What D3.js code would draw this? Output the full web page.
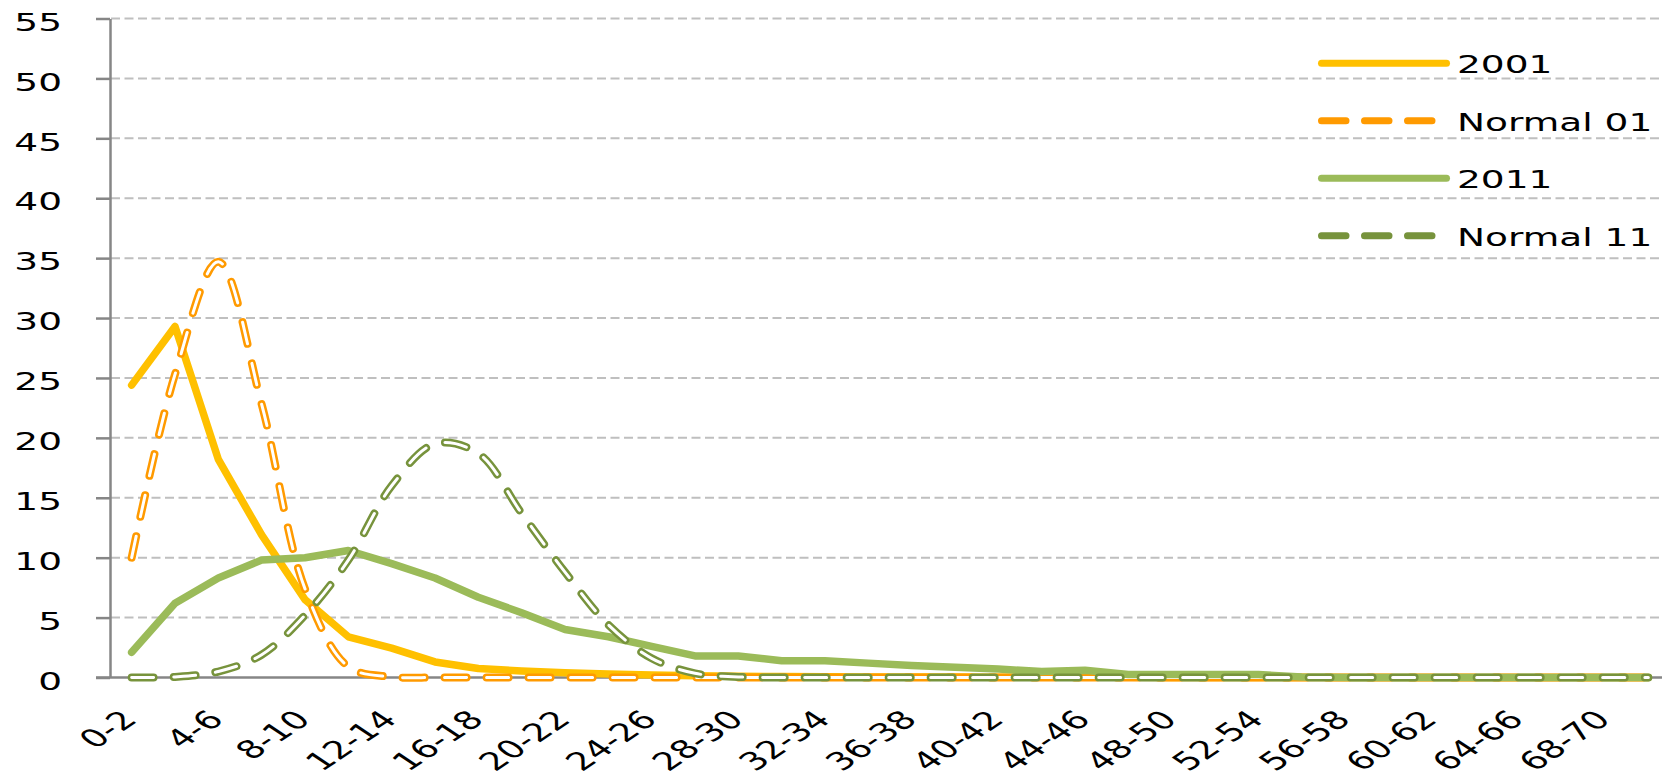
<!DOCTYPE html>
<html>
<head>
<meta charset="utf-8">
<script src="https://cdn.jsdelivr.net/npm/d3@7"></script>
<style>
  body { margin: 0; background: #fff; }
  text { font-family: "DejaVu Sans", sans-serif; fill: #000; }
</style>
</head>
<body>
<svg id="chart" width="1662" height="776"></svg>
<script>
var categories = ["0-2","2-4","4-6","6-8","8-10","10-12","12-14","14-16","16-18","18-20",
  "20-22","22-24","24-26","26-28","28-30","30-32","32-34","34-36","36-38","38-40",
  "40-42","42-44","44-46","46-48","48-50","50-52","52-54","54-56","56-58","58-60",
  "60-62","62-64","64-66","66-68","68-70","70-72"];
var y2001 = [24.4, 29.3, 18.2, 11.9, 6.5, 3.4, 2.45, 1.3, 0.75, 0.55,
  0.4, 0.3, 0.2, 0.15, 0.1, 0.08, 0.06, 0.05, 0.05, 0.04,
  0.03, 0.03, 0.02, 0.02, 0.01, 0.01, 0, 0, 0, 0, 0, 0, 0, 0, 0, 0];
var normal01 = [10.0, 25.3, 34.7, 22.8, 7.4, 0.9, 0.05, 0, 0, 0,
  0, 0, 0, 0, 0, 0, 0, 0, 0, 0, 0, 0, 0, 0, 0, 0, 0, 0, 0, 0, 0, 0, 0, 0, 0, 0];
var y2011 = [2.1, 6.2, 8.3, 9.8, 10.0, 10.6, 9.5, 8.3, 6.7, 5.4,
  4.0, 3.4, 2.6, 1.8, 1.8, 1.4, 1.4, 1.2, 1.0, 0.85,
  0.7, 0.5, 0.6, 0.25, 0.25, 0.25, 0.25, 0.05, 0, 0, 0, 0, 0, 0, 0, 0];
var normal11 = [0, 0.05, 0.5, 1.9, 5.2, 9.8, 16.0, 19.5, 18.7, 13.7,
  8.8, 4.4, 1.6, 0.35, 0.05, 0, 0, 0, 0, 0,
  0, 0, 0, 0, 0, 0, 0, 0, 0, 0, 0, 0, 0, 0, 0, 0];
var yTicks = [0, 5, 10, 15, 20, 25, 30, 35, 40, 45, 50, 55];

var series = [
  {name: "2001", values: y2001, color: "#ffc000", dashed: false},
  {name: "Normal 01", values: normal01, color: "#ff9a00", dashed: true},
  {name: "2011", values: y2011, color: "#9bbb59", dashed: false},
  {name: "Normal 11", values: normal11, color: "#77933c", dashed: true}
];

var svg = d3.select("#chart");
var x = d3.scaleBand().domain(categories).range([110, 1670]);
var cx = function(c) { return x(c) + x.bandwidth() / 2 };
var y = d3.scaleLinear().domain([0, 55]).range([677.5, 18.5]);
// the picture is stretched sideways, so text is too
var stretch = "scale(1.5,1)";

// gridlines
svg.append("g").selectAll("line").data(yTicks.slice(1)).enter().append("line")
  .attr("x1", 111).attr("x2", 1662)
  .attr("y1", function(d) { return y(d) }).attr("y2", function(d) { return y(d) })
  .attr("stroke", "#bfbfbf").attr("stroke-width", 2).attr("stroke-dasharray", "9,4.5");

// y axis
var yAxis = d3.axisLeft(y).tickValues(yTicks).tickSize(14).tickSizeOuter(0);
var yG = svg.append("g").attr("transform", "translate(110,0)").call(yAxis);
yG.select(".domain").attr("stroke", "#868686").attr("stroke-width", 2.5);
yG.selectAll(".tick line").attr("stroke", "#868686").attr("stroke-width", 2.5);
yG.selectAll(".tick text")
  .attr("x", -32).attr("dy", "0.47em")
  .attr("transform", stretch)
  .style("font-size", "25px").style("font-family", "DejaVu Sans").attr("fill", "#000");

// x axis line
svg.append("line")
  .attr("x1", 96).attr("x2", 1662).attr("y1", y(0)).attr("y2", y(0))
  .attr("stroke", "#868686").attr("stroke-width", 2.5);

// x labels, every other category
svg.append("g").selectAll("text").data(categories.filter(function(d, i) { return i % 2 == 0 }))
  .enter().append("text")
  .attr("transform", function(d) {
    return "translate(" + (cx(d) + 7) + ",721) " + stretch + " rotate(-45)"
  })
  .attr("text-anchor", "end")
  .style("font-size", "25px")
  .text(function(d) { return d });

// lines
var solid = d3.line().x(function(d, i) { return cx(categories[i]) }).y(function(d) { return y(d) });
var smooth = d3.line().x(function(d, i) { return cx(categories[i]) }).y(function(d) { return y(d) })
  .curve(d3.curveCatmullRom.alpha(0.5));

var lg = svg.append("g").attr("fill", "none");
series.forEach(function(s) {
  if (!s.dashed) {
    lg.append("path").attr("d", solid(s.values))
      .attr("stroke", s.color).attr("stroke-width", 7.5)
      .attr("stroke-linejoin", "round").attr("stroke-linecap", "round");
  } else {
    lg.append("path").attr("d", smooth(s.values))
      .attr("stroke", s.color).attr("stroke-width", 8)
      .attr("stroke-dasharray", "22,20").attr("stroke-linecap", "round");
    lg.append("path").attr("d", smooth(s.values))
      .attr("stroke", "#fff").attr("stroke-width", 3)
      .attr("stroke-dasharray", "22,20").attr("stroke-linecap", "round");
  }
});

// legend
var leg = svg.append("g").selectAll("g").data(series).enter().append("g")
  .attr("transform", function(d, i) { return "translate(0," + (63.3 + i * 57.5) + ")" });
leg.append("line")
  .attr("x1", 1321.5).attr("x2", 1446.5).attr("y1", 0).attr("y2", 0)
  .attr("stroke", function(d) { return d.color }).attr("stroke-width", 7)
  .attr("stroke-linecap", "round")
  .attr("stroke-dasharray", function(d) { return d.dashed ? "24.5,18.5" : null });
leg.append("text")
  .attr("transform", "translate(1457,10) " + stretch)
  .style("font-size", "25px")
  .text(function(d) { return d.name });
</script>
</body>
</html>
